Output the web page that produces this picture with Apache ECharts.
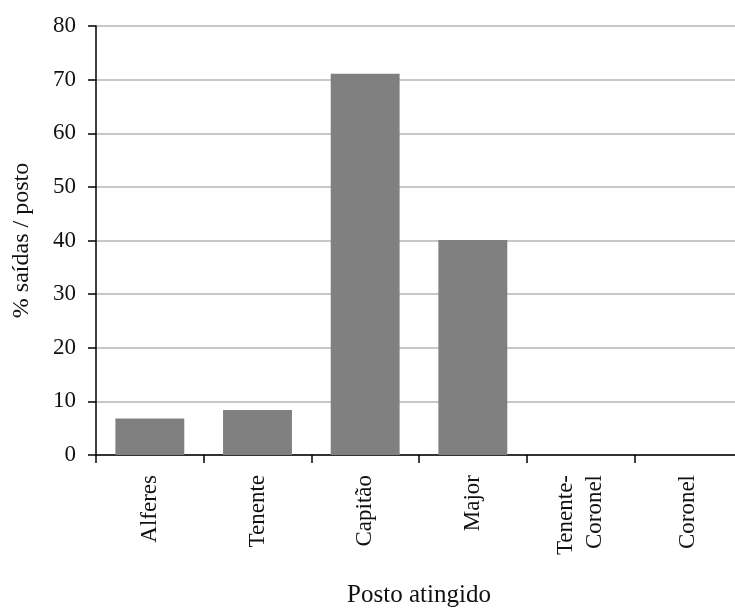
<!DOCTYPE html>
<html>
<head>
<meta charset="utf-8">
<script src="https://cdn.jsdelivr.net/npm/echarts@6/dist/echarts.min.js"></script>
<style>
html,body{margin:0;padding:0;background:#fff;}
#chart{width:735px;height:610px;}
</style>
</head>
<body>
<div id="chart"></div>
<script>
const categories = ["Alferes", "Tenente", "Capitão", "Major", "Tenente-\nCoronel", "Coronel"];
const values = [6.8, 8.4, 71.1, 40.1, 0, 0];
const yTicks = { min: 0, max: 80, interval: 10 };
const xTitle = "Posto atingido";
const yTitle = "% saídas / posto";

const font = "'Liberation Serif', 'DejaVu Serif', serif";
const chart = echarts.init(document.getElementById('chart'), null, { renderer: 'canvas' });
chart.setOption({
  animation: false,
  backgroundColor: '#ffffff',
  grid: { left: 96, right: -7, top: 26, bottom: 155, containLabel: false, outerBoundsMode: 'none' },
  xAxis: {
    type: 'category',
    data: categories,
    name: xTitle,
    nameLocation: 'middle',
    nameGap: 128,
    nameTextStyle: { fontFamily: font, fontSize: 25, color: '#111' },
    axisLine: { lineStyle: { color: '#000', width: 1.5 } },
    axisTick: { show: true, alignWithLabel: false, length: 8, lineStyle: { color: '#000', width: 1.5 } },
    axisLabel: { rotate: 90, margin: 20, fontFamily: font, fontSize: 23, color: '#111', interval: 0, lineHeight: 29 },
    splitLine: { show: false }
  },
  yAxis: {
    type: 'value',
    min: yTicks.min, max: yTicks.max, interval: yTicks.interval,
    name: yTitle,
    nameLocation: 'middle',
    nameGap: 62,
    nameTextStyle: { fontFamily: font, fontSize: 24, color: '#111' },
    axisLine: { show: true, lineStyle: { color: '#000', width: 1.5 } },
    axisTick: { show: true, length: 8, lineStyle: { color: '#000', width: 1.5 } },
    axisLabel: { margin: 20, fontFamily: font, fontSize: 23, color: '#111' },
    splitLine: { show: true, lineStyle: { color: '#c8c8c8', width: 2 } }
  },
  series: [{
    type: 'bar',
    data: values,
    barCategoryGap: '36%',
    itemStyle: { color: '#808080' }
  }]
});
</script>
</body>
</html>
